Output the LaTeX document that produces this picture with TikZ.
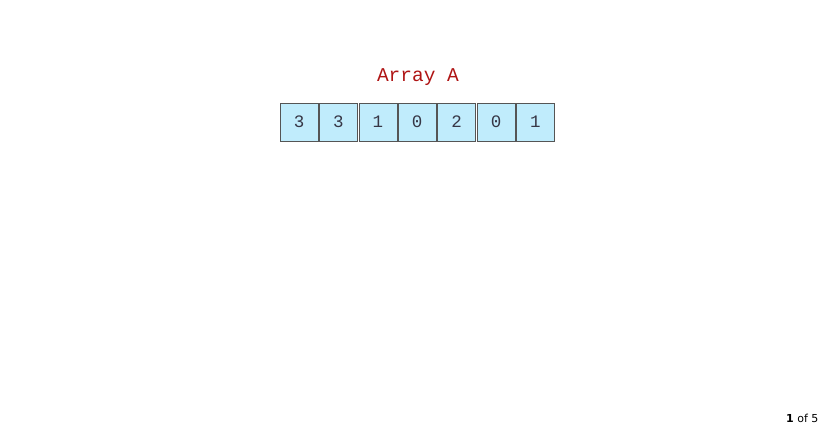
\documentclass[tikz,border=0pt]{standalone}
\usepackage{fontspec}
\setmonofont{Liberation Mono}
\setsansfont{DejaVu Sans}
\usetikzlibrary{positioning}
\definecolor{cellblue}{RGB}{192,236,252}
\definecolor{cellline}{RGB}{85,85,85}
\definecolor{titlered}{RGB}{175,20,20}
\definecolor{digitgray}{RGB}{55,55,70}

\begin{document}
\begin{tikzpicture}[
    cell/.style = {rectangle, draw=cellline, fill=cellblue, minimum width=38pt, minimum height=38pt, inner sep=0pt, font=\ttfamily\fontsize{17.5}{17.5}\selectfont, text=digitgray},
    title/.style = {font=\ttfamily\fontsize{19.5}{19.5}\selectfont, text=titlered},
    pager/.style = {font=\sffamily\fontsize{11}{11}\selectfont, anchor=east}
]
\useasboundingbox (0,0) rectangle (825pt,-430pt);

% Title
\node (title) [title, at={(418pt, -77pt)}] {Array A};

% Array cells
\node (a0) [cell, at={(299pt, -122pt)}] {3};
\node (a1) [cell, right=1pt of a0] {3};
\node (a2) [cell, right=1pt of a1] {1};
\node (a3) [cell, right=1pt of a2] {0};
\node (a4) [cell, right=1pt of a3] {2};
\node (a5) [cell, right=1pt of a4] {0};
\node (a6) [cell, right=1pt of a5] {1};

% Page counter
\node (page) [pager, at={(822pt, -418pt)}] {\textbf{1} of 5};

\end{tikzpicture}
\end{document}
